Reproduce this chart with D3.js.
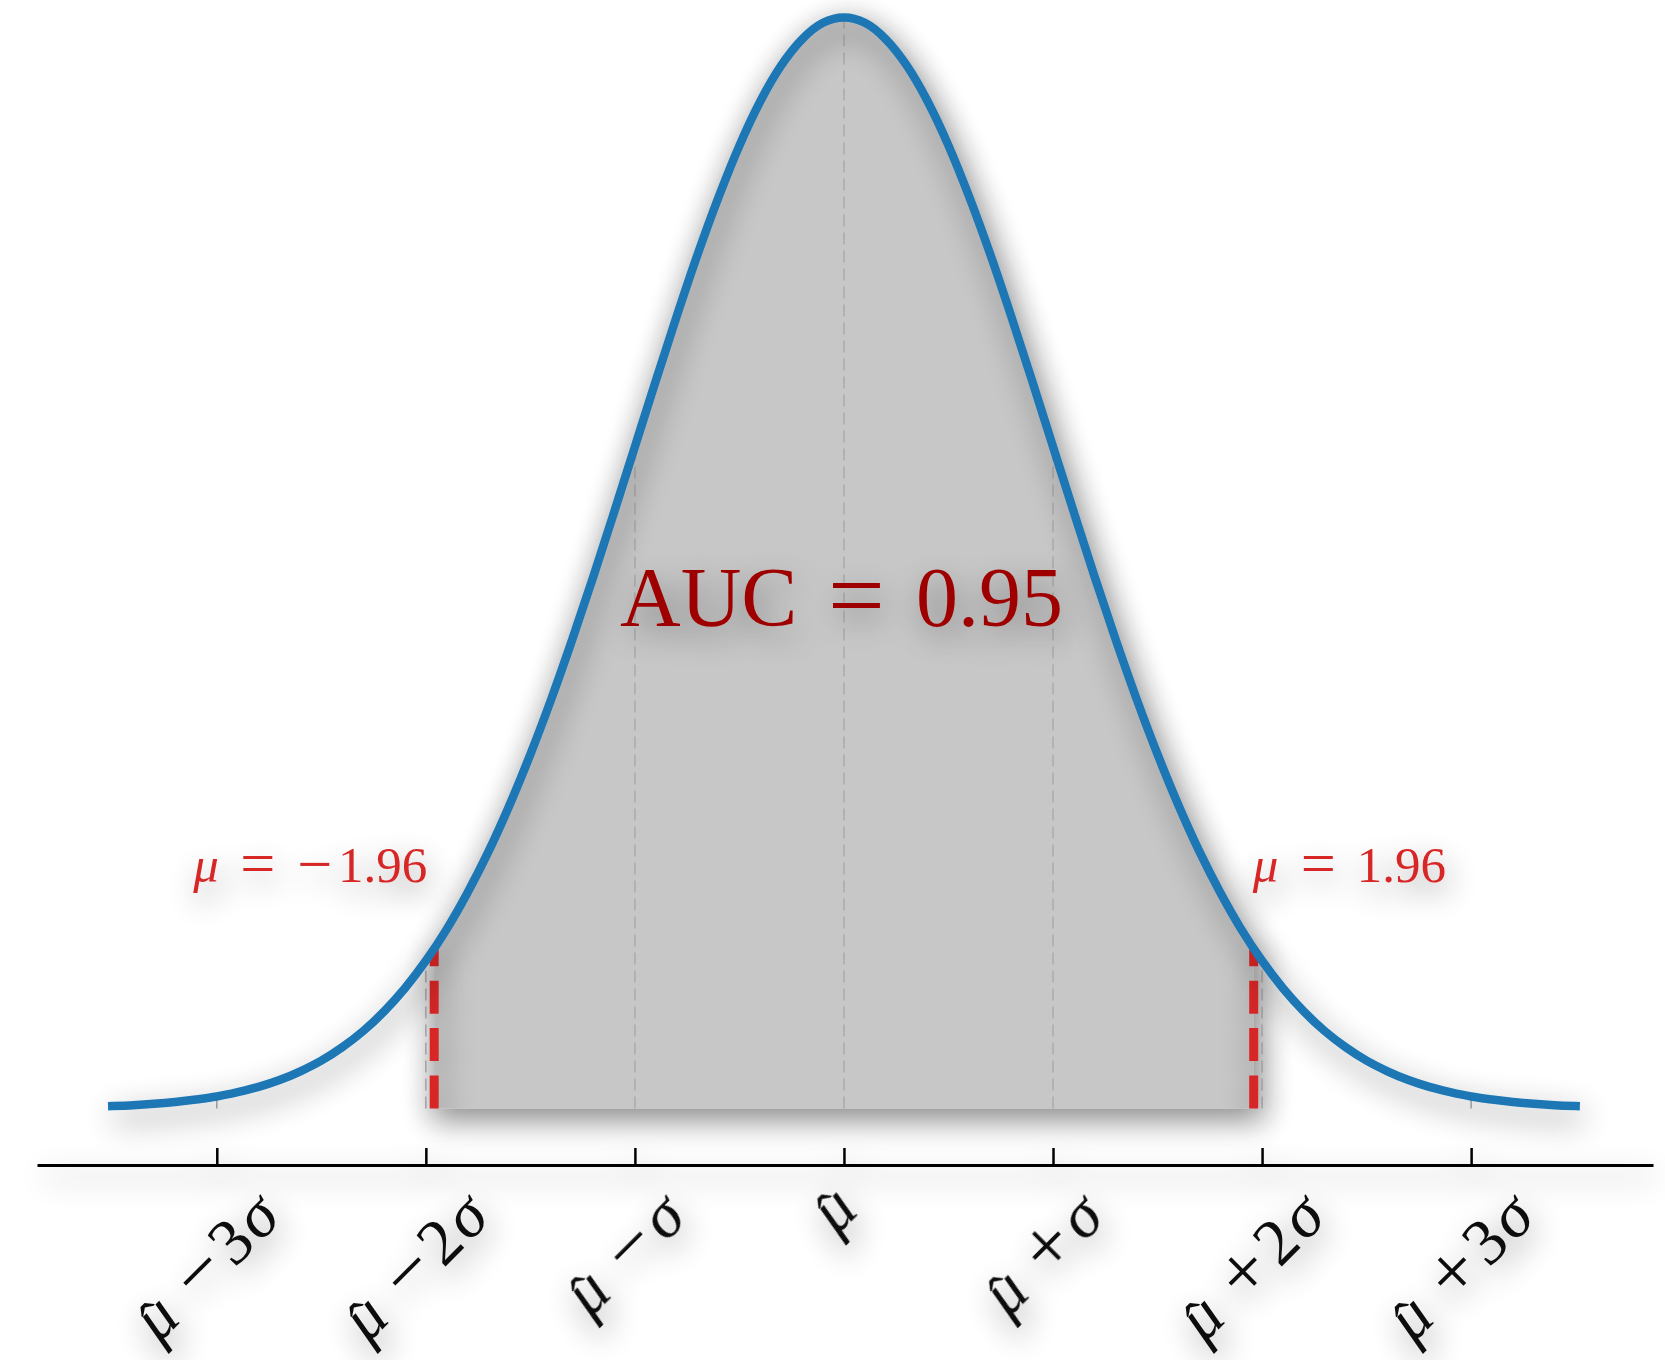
<!DOCTYPE html>
<html><head><meta charset="utf-8">
<script src="https://cdn.jsdelivr.net/npm/d3@7"></script>
<style>body{margin:0;background:#fff;} svg{display:block;} text{font-family:"Liberation Serif","Times New Roman",Times,serif;}</style>
</head><body>
<script>
// ---- data ----
const xValues = [-3.5,-3.4,-3.3,-3.2,-3.1,-3.0,-2.9,-2.8,-2.7,-2.6,-2.5,-2.4,-2.3,-2.2,-2.1,-2.0,-1.9,-1.8,-1.7,-1.6,-1.5,-1.4,-1.3,-1.2,-1.1,-1.0,-0.9,-0.8,-0.7,-0.6,-0.5,-0.4,-0.3,-0.2,-0.1,0.0,
  0.1,0.2,0.3,0.4,0.5,0.6,0.7,0.8,0.9,1.0,1.1,1.2,1.3,1.4,1.5,1.6,1.7,1.8,1.9,2.0,2.1,2.2,2.3,2.4,2.5,2.6,2.7,2.8,2.9,3.0,3.1,3.2,3.3,3.4,3.5];
const densityValues = [0.0009,0.0012,0.0017,0.0024,0.0033,0.0044,0.0060,0.0079,0.0104,0.0136,0.0175,0.0224,0.0283,0.0355,0.0440,0.0540,0.0656,0.0790,0.0940,0.1109,0.1295,0.1497,0.1714,0.1942,0.2179,0.2420,0.2661,0.2897,0.3123,0.3332,0.3521,0.3683,0.3814,0.3910,0.3970,0.3989,
  0.3970,0.3910,0.3814,0.3683,0.3521,0.3332,0.3123,0.2897,0.2661,0.2420,0.2179,0.1942,0.1714,0.1497,0.1295,0.1109,0.0940,0.0790,0.0656,0.0540,0.0440,0.0355,0.0283,0.0224,0.0175,0.0136,0.0104,0.0079,0.0060,0.0044,0.0033,0.0024,0.0017,0.0012,0.0009];
const ciBounds = [-1.96, 1.96];
const ciDensity = [0.0584, 0.0584];
const ciLabels = ["μ = −1.96", "μ = 1.96"];
const ciLabelY = 0.0828;
const tickValues = [-3, -2, -1, 0, 1, 2, 3];
const tickDensity = [0.0044, 0.0540, 0.2420, 0.3989, 0.2420, 0.0540, 0.0044];
const tickLabels = ["μ̂ − 3σ", "μ̂ − 2σ", "μ̂ − σ", "μ̂", "μ̂ + σ", "μ̂ + 2σ", "μ̂ + 3σ"];
const aucLabel = "AUC = 0.95";
const aucPos = [0, 0.1764];

// ---- setup ----
const W = 1665, H = 1360;
const svg = d3.select("body").append("svg").attr("width", W).attr("height", H);
const defs = svg.append("defs");
const f = defs.append("filter").attr("id", "shadow").attr("filterUnits", "userSpaceOnUse")
  .attr("x", -100).attr("y", -100).attr("width", W + 200).attr("height", H + 200);
f.append("feGaussianBlur").attr("in", "SourceAlpha").attr("stdDeviation", 16);
f.append("feOffset").attr("dx", 4).attr("dy", 11).attr("result", "ob");
const ct = f.append("feComponentTransfer").attr("in", "ob").attr("result", "sh");
ct.append("feFuncA").attr("type", "linear").attr("slope", 0.48);
const fm = f.append("feMerge");
fm.append("feMergeNode").attr("in", "sh");
fm.append("feMergeNode").attr("in", "SourceGraphic");

const x = d3.scaleLinear().domain([-3.86, 3.87]).range([37, 1653]);
const y = d3.scaleLinear().domain([0, 0.4]).range([1108.5, 1108.5 - 0.4 * 2734.8]);

const curveData = xValues.map((v, i) => [v, densityValues[i]]);
const fillData = [[ciBounds[0], ciDensity[0]]]
  .concat(curveData.filter(d => d[0] > ciBounds[0] && d[0] < ciBounds[1]))
  .concat([[ciBounds[1], ciDensity[1]]]);

// fill
svg.append("path").datum(fillData)
  .attr("d", d3.area().x(d => x(d[0])).y0(y(0)).y1(d => y(d[1])).curve(d3.curveMonotoneX))
  .attr("fill", "#c7c7c7").attr("filter", "url(#shadow)");

// grid dashed lines at ticks
svg.append("g").selectAll("line").data(tickValues).join("line")
  .attr("x1", d => x(d)).attr("x2", d => x(d))
  .attr("y1", y(0)).attr("y2", (d, i) => y(tickDensity[i]))
  .attr("stroke", "#ababab").attr("stroke-width", 1.5).attr("stroke-dasharray", "12,6");

// red dashed CI lines
svg.append("g").attr("filter", "url(#shadow)").selectAll("line").data(ciBounds).join("line")
  .attr("x1", d => x(d)).attr("x2", d => x(d))
  .attr("y1", y(0)).attr("y2", (d, i) => y(ciDensity[i]))
  .attr("stroke", "#d62728").attr("stroke-width", 9).attr("stroke-dasharray", "33,14.4");

// curve
svg.append("path").datum(curveData)
  .attr("d", d3.line().x(d => x(d[0])).y(d => y(d[1])).curve(d3.curveMonotoneX))
  .attr("fill", "none").attr("stroke", "#1f77b4").attr("stroke-width", 8.5)
  .attr("stroke-linecap", "square").attr("stroke-linejoin", "round")
  .attr("filter", "url(#shadow)");

// axis
const axis = d3.axisBottom(x).tickValues(tickValues).tickSizeInner(-17).tickSizeOuter(0).tickFormat("");
const ag = svg.append("g").attr("transform", "translate(0,1165)").call(axis).attr("filter", "url(#shadow)");
ag.select(".domain").attr("stroke", "#000").attr("stroke-width", 3);
ag.selectAll(".tick line").attr("stroke", "#000").attr("stroke-width", 2.5);

// helper: append a run of characters (μ, σ italic) starting at x0 on baseline yv
function run(textSel, str, x0, yv, size) {
  let first = true;
  for (const ch of str) {
    if (ch === "\u0302") continue;
    const t = textSel.append("tspan").attr("font-style", /[μσ]/.test(ch) ? "italic" : "normal").text(ch);
    if (size) t.attr("font-size", size);
    if (first) { t.attr("x", x0).attr("y", yv); first = false; }
  }
}

// tick labels (rotated 45°, bbox centred under the tick like matplotlib)
const TF = 66;
const lg = svg.append("g").attr("filter", "url(#shadow)");
let cOff = null, topY = null;
tickValues.forEach((t, i) => {
  const g = lg.append("g");
  const tx = g.append("text").attr("transform", "rotate(-45)").attr("font-size", TF).attr("fill", "#111");
  const toks = tickLabels[i].split(" ");
  tx.append("tspan").attr("x", 0).attr("y", 0).attr("font-style", "italic").text("μ");
  tx.append("tspan").attr("x", 0.1 * TF).attr("y", 0).attr("font-size", TF * 0.85).text("ˆ");
  if (toks.length > 1) {
    run(tx, toks[1], 0.86 * TF, 2, TF * 1.18);
    let cx = 1.62 * TF;
    for (const ch of toks[2]) {
      tx.append("tspan").attr("x", cx).attr("y", 0).attr("font-style", ch === "σ" ? "italic" : "normal").text(ch);
      cx += 0.55 * TF;
    }
  }
  const bb = g.node().getBBox();
  if (cOff === null) {            // calibrate from the first label: baseline start at (tick-58, 1344)
    cOff = -58 + bb.x + bb.width / 2;
    topY = 1344 + bb.y;
  }
  const cx = x(t) + cOff;
  g.attr("transform", `translate(${cx - (bb.x + bb.width / 2)},${topY - bb.y})`);
});

// CI labels
const tg = svg.append("g").attr("filter", "url(#shadow)");
const LF = 51;
const by = y(ciLabelY);
const l1 = tg.append("text").attr("font-size", LF).attr("fill", "#d62728");
{
  const x0 = x(ciBounds[0]) - 241;
  run(l1, "μ", x0, by);
  run(l1, "=", x0 + 0.92 * LF, by + 2, LF * 1.22);
  run(l1, "−", x0 + 2.04 * LF, by + 3, LF * 1.22);
  run(l1, "1.96", x0 + 2.84 * LF, by);
}
const l2 = tg.append("text").attr("font-size", LF).attr("fill", "#d62728");
{
  const x0 = x(ciBounds[1]) - 1;
  run(l2, "μ", x0, by);
  run(l2, "=", x0 + 0.94 * LF, by + 2, LF * 1.22);
  run(l2, "1.96", x0 + 2.04 * LF, by);
}

// AUC label
const AF = 84;
const ay = y(aucPos[1]);
const at = tg.append("text").attr("font-size", AF).attr("fill", "#9e0000");
{
  const parts = aucLabel.split(" ");
  const c = x(aucPos[0]);
  run(at, parts[0], c - 224, ay);
  run(at, parts[1], c - 16, ay + 3, AF * 1.2);
  run(at, parts[2], c + 72, ay);
}
</script>
</body></html>
